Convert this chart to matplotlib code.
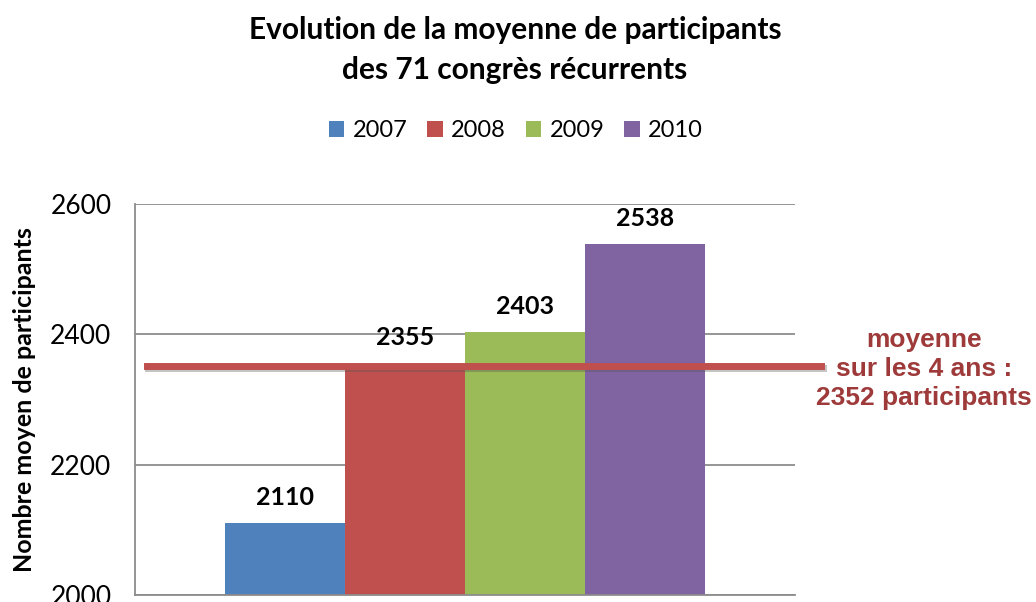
import matplotlib
matplotlib.use("Agg")
import matplotlib.pyplot as plt
import matplotlib.patheffects as pe
from matplotlib.patches import Patch

# données : moyenne de participants par année
annees = ["2007", "2008", "2009", "2010"]
participants = [2110, 2355, 2403, 2538]
moyenne = 2352
couleurs = ["#4F81BD", "#C0504D", "#9BBB59", "#8064A2"]

plt.rcParams["font.family"] = ["Lato", "DejaVu Sans"]

fig = plt.figure(figsize=(10.36, 6.02), dpi=100)
ax = fig.add_axes([0.1303, 0.0116, 0.6371, 0.6496])

x = range(len(annees))
ax.bar(x, participants, width=1.0, color=couleurs, zorder=2)

# étiquettes de valeur au-dessus des barres
for xi, v in zip(x, participants):
    ax.text(xi, v + 22, str(v), ha="center", va="bottom",
            fontsize=18, fontweight="bold", color="black")

ax.set_xlim(-1.25, 4.25)
ax.set_ylim(2000, 2600)
ax.set_yticks([2000, 2200, 2400, 2600])
ax.set_xticks([])
ax.tick_params(axis="y", length=0, pad=17, labelsize=19)

ax.yaxis.grid(True, color="#8C8C8C", linewidth=1.3, zorder=0)
ax.set_axisbelow(True)
for s in ["top", "right"]:
    ax.spines[s].set_visible(False)
for s in ["left", "bottom"]:
    ax.spines[s].set_color("#8C8C8C")
    ax.spines[s].set_linewidth(1.3)

ax.set_ylabel("Nombre moyen de participants", fontsize=18,
              fontweight="bold", labelpad=10)

# ligne de la moyenne sur les 4 ans (avec ombre)
ax.axhline(moyenne, xmin=0.018, xmax=1.04, color="#C0504D", linewidth=5,
           clip_on=False, zorder=3,
           path_effects=[pe.SimpleLineShadow(offset=(1, -2), alpha=0.35,
                                             shadow_color="#555555"),
                         pe.Normal()])

fig.text(0.892, 0.387, "moyenne\nsur les 4 ans :\n2352 participants",
         ha="center", va="center", fontsize=19, fontweight="bold",
         color="#9E3A3A", family=["Liberation Sans", "DejaVu Sans"],
         linespacing=1.25)

fig.suptitle("Evolution de la moyenne de participants\ndes 71 congrès récurrents",
             x=0.497, y=0.973, fontsize=21.5, fontweight="bold",
             linespacing=1.5)

handles = [Patch(facecolor=c) for c in couleurs]
fig.legend(handles, annees, loc="center", bbox_to_anchor=(0.498, 0.783),
           ncol=4, frameon=False, fontsize=17, handlelength=0.65,
           handleheight=0.65, handletextpad=0.35, columnspacing=0.85)

plt.savefig("out.png", dpi=100)
